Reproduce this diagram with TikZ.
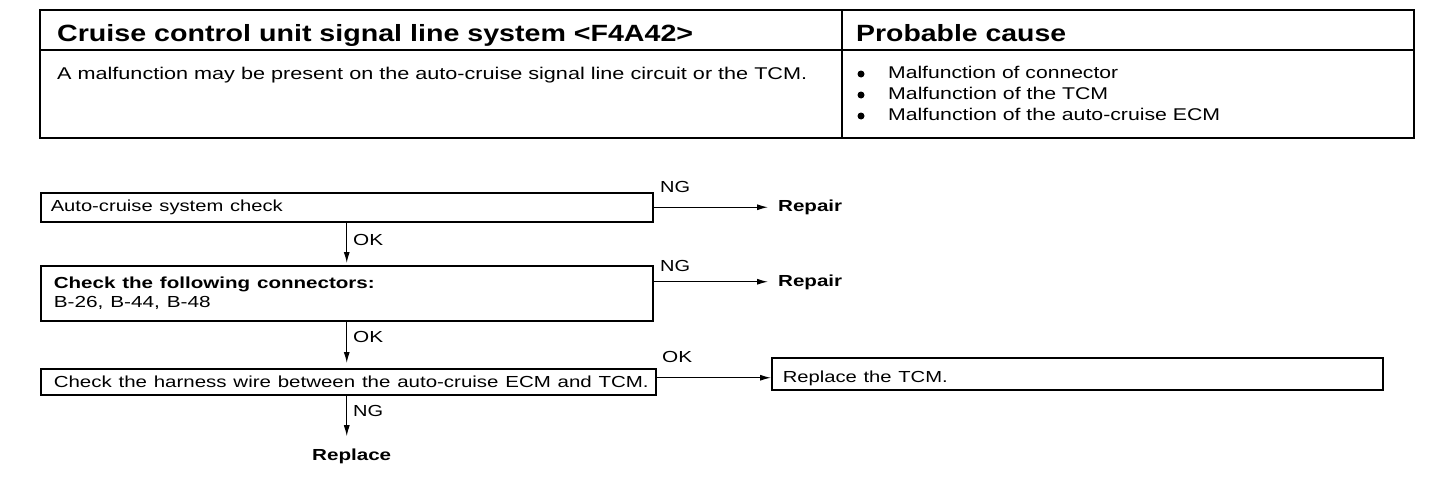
\documentclass[tikz,border=0pt]{standalone}
\usepackage{graphicx}
\usepackage{fontspec}
\setmainfont{Liberation Sans}
\usetikzlibrary{arrows.meta,calc}
\newcommand{\fw}[2]{\resizebox{#1}{\height}{#2}}
\newcommand{\titlefont}{\fontsize{23.5}{26}\selectfont}
\newcommand{\bodyfont}{\fontsize{17}{21}\selectfont}
\newcommand{\flowfont}{\fontsize{16}{19}\selectfont}
\tikzset{
  txt/.style={anchor=base west, inner sep=0pt},
  box/.style={draw, line width=1.5pt, anchor=north west, inner ysep=0pt, align=left, font=\flowfont},
  arr/.style={line width=1.1pt, -{Latex[length=11pt,width=6pt]}},
  bul/.style={circle, fill, inner sep=0pt, minimum size=7pt},
  lab/.style={txt, font=\flowfont},
  res/.style={txt, font=\flowfont\bfseries},
}
\begin{document}
\begin{tikzpicture}[x=1pt,y=-1pt]
\useasboundingbox (0,0) rectangle (1456,482);
% table
\draw[line width=1.4pt] (40,50) -- (1414,50);
\draw[line width=1.4pt] (842,10) -- (842,138);
\draw[line width=2.2pt] (40,10) rectangle (1414,138);
\node[txt, font=\titlefont] (title) at (57,41) {\fw{636pt}{\bfseries Cruise control unit signal line system <F4A42>}};
\node[txt, font=\titlefont] (pc) at (856,41) {\fw{210pt}{\bfseries Probable cause}};
\node[txt, font=\bodyfont] (desc) at (57,79) {\fw{750pt}{A malfunction may be present on the auto-cruise signal line circuit or the TCM.}};
\node[bul] (d1) at (861,74) {};
\node[bul] (d2) at (861,95) {};
\node[bul] (d3) at (861,116) {};
\node[txt, font=\bodyfont] (c1) at (888,78) {\fw{230pt}{Malfunction of connector}};
\node[txt, font=\bodyfont] (c2) at (888,99) {\fw{220pt}{Malfunction of the TCM}};
\node[txt, font=\bodyfont] (c3) at (888,120) {\fw{332pt}{Malfunction of the auto-cruise ECM}};
% flowchart
\node[box, inner xsep=10pt, text width=592pt, minimum height=29pt] (b1) at (40,192) {\fw{232pt}{Auto-cruise system check}};
\node[box, inner xsep=13pt, text width=586pt, minimum height=55pt] (b2) at (40,265) {\fw{321pt}{\bfseries Check the following connectors:}\\\fw{157pt}{B-26, B-44, B-48}};
\node[box, inner xsep=13pt, text width=589pt, minimum height=26pt] (b3) at (40,368) {\fw{595pt}{Check the harness wire between the auto-cruise ECM and TCM.}};
\node[box, inner xsep=11pt, text width=589pt, minimum height=32pt, text height=22pt, text depth=4pt] (b4) at (771,357) {\fw{165pt}{Replace the TCM.}};
\node[res] (r1) at (778,211) {\fw{64pt}{Repair}};
\node[res] (r2) at (778,286) {\fw{64pt}{Repair}};
\node[res] (r3) at (312,460) {\fw{79pt}{Replace}};
\node[lab] (ng1) at (660,192) {\fw{30pt}{NG}};
\node[lab] (ng2) at (660,271) {\fw{30pt}{NG}};
\node[lab] (ok3) at (662,362) {\fw{30pt}{OK}};
\node[lab] (ok1) at (353,245) {\fw{30pt}{OK}};
\node[lab] (ok2) at (353,342) {\fw{30pt}{OK}};
\node[lab] (ng3) at (353,416) {\fw{30pt}{NG}};
\draw[arr, shorten >=10pt] (b1.east) -- (b1.east -| r1.west);
\draw[arr, shorten >=10pt] ([yshift=11.5pt]b2.east) coordinate (s2) -- (s2 -| r2.west);
\draw[arr] ([yshift=4pt]b3.east) coordinate (s3) -- (s3 -| b4.west);
\draw[arr, shorten >=2pt] (b1.south) -- (b2.north);
\draw[arr, shorten >=5pt] (b2.south) -- (b2.south |- b3.north);
\draw[arr, shorten >=12pt] (b2.south |- b3.south) -- (b2.south |- r3.north);
\end{tikzpicture}
\end{document}
